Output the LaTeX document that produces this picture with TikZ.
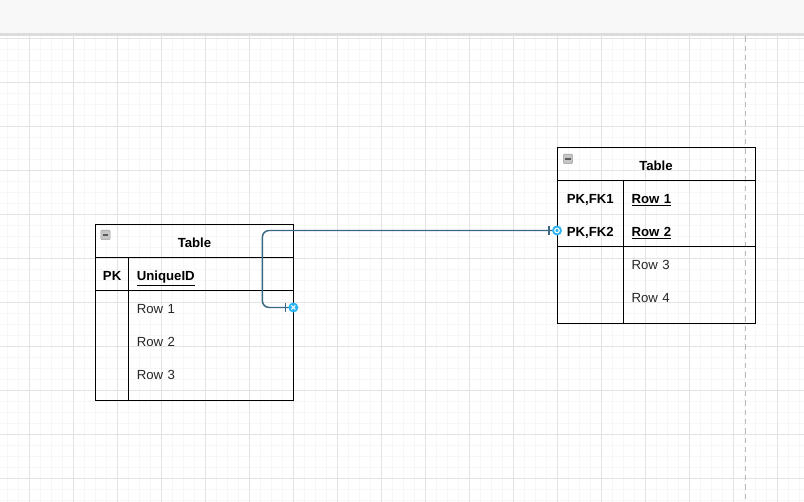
\documentclass[tikz,border=0pt]{standalone}
\usepackage{fontspec}
\setmainfont{Liberation Sans}
\usepackage{tikz}
\usetikzlibrary{positioning,calc}
\definecolor{edgeblue}{HTML}{3A6784}
\definecolor{handle}{HTML}{29B6F2}
\definecolor{barfill}{HTML}{F8F8F8}
\definecolor{barline}{HTML}{DCDCDC}
\definecolor{gridminor}{HTML}{F7F7F7}
\definecolor{gridmajor}{HTML}{E3E3E3}

\begin{document}
\begin{tikzpicture}[x=0.75pt,y=-0.75pt,node distance=0pt,font=\fontsize{9.9}{11}\selectfont,
tab/.style={draw,line width=0.75pt,inner sep=0pt,outer sep=0pt,minimum width=148.5pt,minimum height=132pt},
hdrcell/.style={inner sep=0pt,outer sep=0pt,minimum width=148.5pt,minimum height=24.75pt,text height=9pt,text depth=0pt,font=\fontsize{9.9}{11}\selectfont\bfseries},
keycell/.style={inner sep=0pt,outer sep=0pt,minimum height=24.75pt,text height=9pt,text depth=0pt,font=\fontsize{9.9}{11}\selectfont\bfseries},
valcell/.style={inner xsep=6pt,inner ysep=0pt,outer sep=0pt,minimum height=24.75pt,text height=9pt,text depth=0pt,text width=111.4pt,align=left,text=black!85},
line/.style={line width=0.75pt},
rel/.style={edgeblue,line width=1.1pt},
mini/.style={draw=gray!75,fill=gray!45,rounded corners=0.8pt,minimum size=7pt,inner sep=0pt,
  path picture={\draw[black!65,line width=0.9pt] ([xshift=-2pt]path picture bounding box.center) -- ([xshift=2pt]path picture bounding box.center);}},
hx/.style={circle,fill=handle,inner sep=0pt,minimum size=7.5pt,
  path picture={\draw[white,line width=0.8pt] ([shift={(-1.5pt,-1.5pt)}]path picture bounding box.center) -- ([shift={(1.5pt,1.5pt)}]path picture bounding box.center) ([shift={(-1.5pt,1.5pt)}]path picture bounding box.center) -- ([shift={(1.5pt,-1.5pt)}]path picture bounding box.center);}},
ho/.style={circle,fill=handle,inner sep=0pt,minimum size=7.5pt,
  path picture={\draw[white,line width=0.8pt] (path picture bounding box.center) circle (1.7pt);}}]
\useasboundingbox (0,0) rectangle (804,502);
\fill[barfill] (0,0) rectangle (804,33);
\fill[barline] (0,33) rectangle (804,36.5);
\fill[white] (0,36.5) rectangle (804,502);
\foreach \gx in {7.5,18.5,...,804} \draw[gridminor,line width=0.5pt] (\gx,36.5) -- (\gx,502);
\foreach \gy in {38.7,49.7,...,502} \draw[gridminor,line width=0.5pt] (0,\gy) -- (804,\gy);
\foreach \gx in {29.5,73.5,...,804} \draw[gridmajor,line width=0.6pt] (\gx,36.5) -- (\gx,502);
\foreach \gy in {38.7,82.7,...,502} \draw[gridmajor,line width=0.6pt] (0,\gy) -- (804,\gy);
\draw[gray!55,line width=0.6pt,dash pattern=on 4pt off 3pt] (745,36.5) -- (745,502);

\node[tab,anchor=north west] (ltab) at (95.5,225) {};
\node[hdrcell,anchor=north] (ltitle) at (ltab.north) {Table};
\node[mini,anchor=north west] (lmin) at ($(ltab.north west)+(5,5)$) {};
\node[keycell,minimum width=25pt,anchor=north west] (lpk) at (ltitle.south west) {PK};
\node[valcell,anchor=north west,font=\fontsize{9.9}{11}\selectfont\bfseries,text=black] (luid) at (lpk.north east) {\underline{UniqueID}};
\node[valcell,below=of luid] (lrow1) {Row 1};
\node[valcell,below=of lrow1] (lrow2) {Row 2};
\node[valcell,below=of lrow2] (lrow3) {Row 3};
\draw[line] (ltitle.south west) -- (ltitle.south east);
\draw[line] (luid.south -| ltab.west) -- (luid.south -| ltab.east);
\draw[line] (lpk.north east) -- (lpk.north east |- ltab.south);

\node[tab,anchor=north west] (rtab) at (557,148) {};
\node[hdrcell,anchor=north] (rtitle) at (rtab.north) {Table};
\node[mini,anchor=north west] (rmin) at ($(rtab.north west)+(6,6)$) {};
\node[keycell,minimum width=49.9pt,anchor=north west] (rfk1) at (rtitle.south west) {PK,FK1};
\node[keycell,minimum width=49.9pt,below=of rfk1] (rfk2) {PK,FK2};
\node[valcell,text width=86.6pt,anchor=north west,font=\fontsize{9.9}{11}\selectfont\bfseries,text=black] (rrow1) at (rfk1.north east) {\underline{Row 1}};
\node[valcell,text width=86.6pt,below=of rrow1,font=\fontsize{9.9}{11}\selectfont\bfseries,text=black] (rrow2) {\underline{Row 2}};
\node[valcell,text width=86.6pt,below=of rrow2] (rrow3) {Row 3};
\node[valcell,text width=86.6pt,below=of rrow3] (rrow4) {Row 4};
\draw[line] (rtitle.south west) -- (rtitle.south east);
\draw[line] (rrow2.south -| rtab.west) -- (rrow2.south -| rtab.east);
\draw[line] (rfk1.north east) -- (rfk1.north east |- rtab.south);

\draw[rel,rounded corners=5pt] (lrow1.east) -- ++(-31,0) |- (rfk2.west);
\draw[rel] ($(lrow1.east)+(-8,-4.5)$) -- ++(0,9);
\draw[rel] ($(rfk2.west)+(-8,-4.5)$) -- ++(0,9);
\node[hx] (hl) at (lrow1.east) {};
\node[ho] (hr) at (rfk2.west) {};
\end{tikzpicture}
\end{document}
